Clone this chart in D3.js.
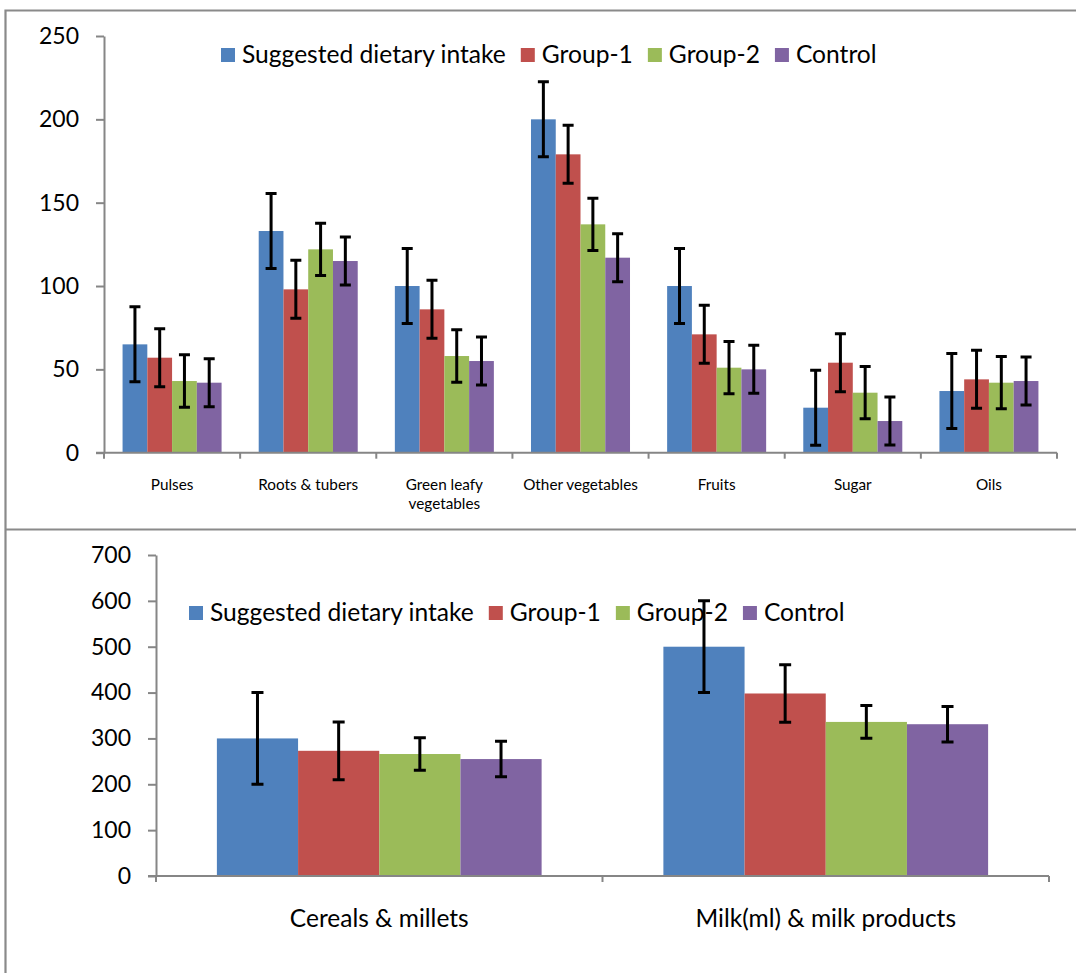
<!DOCTYPE html>
<html>
<head>
<meta charset="utf-8" />
<title>Dietary intake</title>
<style>
html, body {
    margin: 0px;
    padding: 0px;
    background: #fff;
}
svg {
    display: block;
    font-family: Lato, "Open Sans", sans-serif;
}
</style>
</head>
<body>
<svg id="chart" width="1076" height="973"></svg>

<script src="https://d3js.org/d3.v7.min.js"></script>
<script>
// series + colours
var seriesNames = ["Suggested dietary intake", "Group-1", "Group-2", "Control"]
var seriesColors = ["#4F81BD", "#C0504D", "#9BBB59", "#8064A2"]

// top panel
var topCats = ["Pulses", "Roots & tubers", "Green leafy\nvegetables", "Other vegetables", "Fruits", "Sugar", "Oils"]
var topSuggested = [65, 133, 100, 200, 100, 27, 37]
var topGroup1    = [57, 98, 86, 179, 71, 54, 44]
var topGroup2    = [43, 122, 58, 137, 51, 36, 42]
var topControl   = [42, 115, 55, 117, 50, 19, 43]
var topErrSuggested = [22.5, 22.5, 22.5, 22.5, 22.5, 22.5, 22.5]
var topErrGroup1    = [17.4, 17.4, 17.4, 17.4, 17.4, 17.4, 17.4]
var topErrGroup2    = [15.7, 15.7, 15.7, 15.7, 15.7, 15.7, 15.7]
var topErrControl   = [14.4, 14.4, 14.4, 14.4, 14.4, 14.4, 14.4]
var topTicks = [0, 50, 100, 150, 200, 250]

// bottom panel
var botCats = ["Cereals & millets", "Milk(ml) & milk products"]
var botSuggested = [300, 500]
var botGroup1    = [273, 398]
var botGroup2    = [266, 336]
var botControl   = [255, 331]
var botErrSuggested = [100, 100]
var botErrGroup1    = [63, 62.5]
var botErrGroup2    = [35.5, 35.8]
var botErrControl   = [38.7, 38.8]
var botTicks = [0, 100, 200, 300, 400, 500, 600, 700]

var svg = d3.select("#chart")
var axisColor = "#868686"

// frame lines
svg.append("path")
    .attr("d", "M1076,10.5 H5.5 V973 M5.5,529.5 H1076")
    .attr("fill", "none")
    .attr("stroke", "#8a8a8a")
    .attr("stroke-width", 2.2)

drawPanel({
    cats: topCats,
    values: [topSuggested, topGroup1, topGroup2, topControl],
    errs: [topErrSuggested, topErrGroup1, topErrGroup2, topErrControl],
    ticks: topTicks,
    left: 104, right: 1057, top: 36, bottom: 452.7,
    legendX: 221, legendY: 55,
    catFont: 15.3, catY: 490, catLine: 19,
    capW: 11
})

drawPanel({
    cats: botCats,
    values: [botSuggested, botGroup1, botGroup2, botControl],
    errs: [botErrSuggested, botErrGroup1, botErrGroup2, botErrControl],
    ticks: botTicks,
    left: 156, right: 1049, top: 555, bottom: 876,
    legendX: 189, legendY: 613,
    catFont: 24.5, catY: 927, catLine: 26,
    capW: 12
})

function drawPanel(p) {
    var g = svg.append("g")

    var y = d3.scaleLinear()
        .domain([p.ticks[0], p.ticks[p.ticks.length - 1]])
        .range([p.bottom, p.top])

    var pad = 1.5 / 5.5
    var x0 = d3.scaleBand()
        .domain(p.cats)
        .range([p.left, p.right])
        .paddingInner(pad)
        .paddingOuter(pad / 2)

    var x1 = d3.scaleBand()
        .domain(d3.range(seriesNames.length))
        .range([0, x0.bandwidth()])

    // y axis
    var yAxis = g.append("g")
        .attr("transform", "translate(" + p.left + ",0)")
        .call(d3.axisLeft(y).tickValues(p.ticks).tickSize(8).tickPadding(17).tickSizeOuter(0))
    yAxis.select(".domain").attr("stroke", axisColor).attr("stroke-width", 2)
    yAxis.selectAll(".tick line").attr("stroke", axisColor).attr("stroke-width", 2)
    yAxis.selectAll(".tick text")
        .attr("fill", "#000")
        .style("font-size", "23px")
        .style("font-family", "Lato, sans-serif")

    // legend (drawn under the bars)
    var lg = g.append("g")
    var lx = p.legendX
    seriesNames.forEach(function(name, i) {
        lg.append("rect")
            .attr("x", lx).attr("y", p.legendY - 7)
            .attr("width", 14).attr("height", 14)
            .attr("fill", seriesColors[i])
        var t = lg.append("text")
            .attr("x", lx + 21).attr("y", p.legendY + 7.5)
            .style("font-size", "24.6px")
            .text(name)
        lx += 21 + t.node().getComputedTextLength() + 15
    })

    // bars
    var rows = []
    p.cats.forEach(function(c, ci) {
        p.values.forEach(function(vals, si) {
            rows.push({cat: c, s: si, v: vals[ci], e: p.errs[si][ci]})
        })
    })

    g.append("g").selectAll("rect")
        .data(rows)
        .join("rect")
        .attr("x", function(d) { return x0(d.cat) + x1(d.s) })
        .attr("width", x1.bandwidth())
        .attr("y", function(d) { return y(d.v) })
        .attr("height", function(d) { return y(0) - y(d.v) })
        .attr("fill", function(d) { return seriesColors[d.s] })

    // x axis
    var step = x0.step()
    var bounds = d3.range(p.cats.length + 1).map(function(i) { return p.left + i * step })
    g.append("line")
        .attr("x1", p.left - 8).attr("x2", p.right)
        .attr("y1", p.bottom).attr("y2", p.bottom)
        .attr("stroke", axisColor).attr("stroke-width", 2)
    g.append("g").selectAll("line")
        .data(bounds)
        .join("line")
        .attr("x1", function(d) { return d }).attr("x2", function(d) { return d })
        .attr("y1", p.bottom).attr("y2", p.bottom + 6)
        .attr("stroke", axisColor).attr("stroke-width", 2)

    // error bars
    var eg = g.append("g").attr("stroke", "#000").attr("stroke-width", 3).attr("fill", "none")
    eg.selectAll("path")
        .data(rows)
        .join("path")
        .attr("d", function(d) {
            var cx = x0(d.cat) + x1(d.s) + x1.bandwidth() / 2
            var hi = y(d.v + d.e), lo = y(d.v - d.e), w = p.capW / 2
            return "M" + (cx - w) + "," + hi + "H" + (cx + w) +
                   "M" + cx + "," + hi + "V" + lo +
                   "M" + (cx - w) + "," + lo + "H" + (cx + w)
        })

    // category labels
    g.append("g").selectAll("text")
        .data(p.cats)
        .join("text")
        .attr("text-anchor", "middle")
        .attr("fill", "#000")
        .style("font-size", p.catFont + "px")
        .each(function(c) {
            var el = d3.select(this)
            var cx = x0(c) + x0.bandwidth() / 2
            c.split("\n").forEach(function(line, li) {
                el.append("tspan")
                    .attr("x", cx)
                    .attr("y", p.catY + li * p.catLine)
                    .text(line)
            })
        })
}
</script>
</body>
</html>
